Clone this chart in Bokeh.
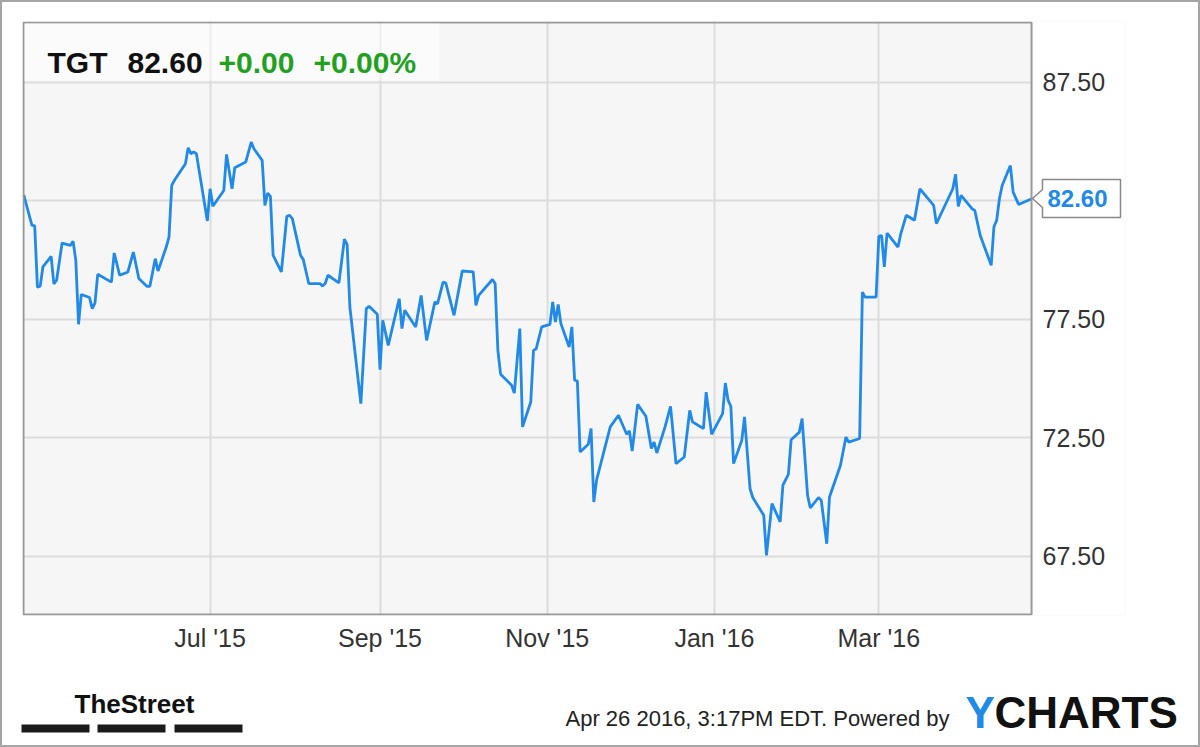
import pandas as pd
from bokeh.plotting import figure
from bokeh.layouts import column
from bokeh.models import (Range1d, FixedTicker, NumeralTickFormatter, Label,
                          BoxAnnotation, PolyAnnotation, ColumnDataSource)
from bokeh.embed import file_html
from bokeh.resources import INLINE

# ---------------- data ----------------
dates = [
    "2015-04-24", "2015-04-27", "2015-04-28", "2015-04-29", "2015-04-30", "2015-05-01",
    "2015-05-04", "2015-05-05", "2015-05-06", "2015-05-08", "2015-05-11", "2015-05-12",
    "2015-05-13", "2015-05-14", "2015-05-15", "2015-05-18", "2015-05-19", "2015-05-20",
    "2015-05-21", "2015-05-26", "2015-05-27", "2015-05-29", "2015-06-01", "2015-06-03",
    "2015-06-05", "2015-06-08", "2015-06-09", "2015-06-11", "2015-06-12", "2015-06-15",
    "2015-06-16", "2015-06-17", "2015-06-18", "2015-06-22", "2015-06-23", "2015-06-24",
    "2015-06-25", "2015-06-26", "2015-06-30", "2015-07-01", "2015-07-02", "2015-07-06",
    "2015-07-07", "2015-07-09", "2015-07-10", "2015-07-14", "2015-07-16", "2015-07-17",
    "2015-07-20", "2015-07-21", "2015-07-22", "2015-07-23", "2015-07-24", "2015-07-27",
    "2015-07-29", "2015-07-30", "2015-07-31", "2015-08-03", "2015-08-04", "2015-08-06",
    "2015-08-10", "2015-08-11", "2015-08-12", "2015-08-13", "2015-08-17", "2015-08-19",
    "2015-08-20", "2015-08-21", "2015-08-25", "2015-08-27", "2015-08-28", "2015-08-31",
    "2015-09-01", "2015-09-02", "2015-09-04", "2015-09-08", "2015-09-09", "2015-09-10",
    "2015-09-14", "2015-09-16", "2015-09-18", "2015-09-21", "2015-09-22", "2015-09-24",
    "2015-09-25", "2015-09-28", "2015-10-01", "2015-10-05", "2015-10-06", "2015-10-07",
    "2015-10-12", "2015-10-13", "2015-10-14", "2015-10-15", "2015-10-19", "2015-10-20",
    "2015-10-22", "2015-10-23", "2015-10-26", "2015-10-27", "2015-10-28", "2015-10-30",
    "2015-11-02", "2015-11-03", "2015-11-04", "2015-11-05", "2015-11-06", "2015-11-09",
    "2015-11-10", "2015-11-11", "2015-11-12", "2015-11-13", "2015-11-16", "2015-11-17",
    "2015-11-18", "2015-11-19", "2015-11-24", "2015-11-27", "2015-11-30", "2015-12-01",
    "2015-12-02", "2015-12-04", "2015-12-07", "2015-12-09", "2015-12-10", "2015-12-11",
    "2015-12-14", "2015-12-16", "2015-12-18", "2015-12-21", "2015-12-23", "2015-12-24",
    "2015-12-28", "2015-12-29", "2015-12-31", "2016-01-04", "2016-01-05", "2016-01-06",
    "2016-01-07", "2016-01-08", "2016-01-11", "2016-01-12", "2016-01-14", "2016-01-15",
    "2016-01-19", "2016-01-20", "2016-01-22", "2016-01-25", "2016-01-26", "2016-01-28",
    "2016-01-29", "2016-02-01", "2016-02-02", "2016-02-04", "2016-02-05", "2016-02-08",
    "2016-02-09", "2016-02-11", "2016-02-12", "2016-02-16", "2016-02-18", "2016-02-19",
    "2016-02-23", "2016-02-24", "2016-02-25", "2016-02-29", "2016-03-01", "2016-03-02",
    "2016-03-03", "2016-03-04", "2016-03-08", "2016-03-09", "2016-03-11", "2016-03-14",
    "2016-03-16", "2016-03-21", "2016-03-22", "2016-03-24", "2016-03-28", "2016-03-29",
    "2016-03-30", "2016-03-31", "2016-04-04", "2016-04-05", "2016-04-07", "2016-04-11",
    "2016-04-12", "2016-04-13", "2016-04-14", "2016-04-15", "2016-04-18", "2016-04-19",
    "2016-04-21", "2016-04-26",
]
prices = [
    82.75, 81.47, 81.45, 78.86, 78.90, 79.71,
    80.16, 79.00, 79.15, 80.72, 80.62, 80.80,
    79.99, 77.29, 78.55, 78.42, 77.95, 78.19,
    79.40, 79.07, 80.30, 79.36, 79.50, 80.34,
    79.22, 78.89, 78.89, 80.06, 79.54, 80.55,
    80.97, 83.15, 83.37, 84.07, 84.74, 84.49,
    84.56, 84.49, 81.65, 83.01, 82.27, 82.94,
    84.46, 83.01, 83.90, 84.14, 84.98, 84.70,
    84.21, 82.31, 82.83, 82.69, 80.20, 79.50,
    81.85, 81.89, 81.75, 80.20, 80.02, 79.01,
    79.01, 78.91, 79.01, 79.36, 79.04, 80.88,
    80.65, 78.02, 73.94, 77.95, 78.05, 77.71,
    75.38, 77.46, 76.40, 78.37, 77.11, 77.88,
    77.18, 78.51, 76.61, 78.23, 78.16, 79.07,
    79.03, 77.67, 79.54, 79.50, 78.09, 78.51,
    79.18, 79.01, 76.19, 75.18, 74.72, 74.39,
    77.11, 72.96, 74.01, 76.19, 76.26, 77.18,
    77.29, 78.23, 77.39, 78.13, 77.32, 76.33,
    77.18, 74.93, 74.90, 71.90, 72.23, 72.89,
    69.79, 70.71, 72.96, 73.45, 72.65, 72.79,
    71.94, 73.91, 73.41, 72.05, 72.32, 71.86,
    72.96, 73.83, 71.41, 71.69, 73.66, 73.17,
    72.89, 74.43, 72.65, 73.52, 74.81, 74.08,
    73.83, 71.41, 72.39, 73.38, 70.36, 69.98,
    69.23, 67.54, 69.72, 68.95, 70.50, 70.96,
    72.42, 72.74, 73.31, 70.07, 69.54, 69.98,
    69.86, 68.03, 70.00, 71.34, 72.53, 72.32,
    72.47, 78.65, 78.44, 78.44, 81.00, 81.04,
    79.71, 81.14, 80.55, 81.11, 81.89, 81.68,
    83.01, 82.31, 81.54, 82.03, 83.01, 83.62,
    82.27, 82.73, 82.17, 82.10, 81.04, 79.78,
    81.41, 81.68, 82.59, 83.15, 83.99, 82.87,
    82.35, 82.60,
]
x_tick_dates = ["2015-07-01", "2015-09-01", "2015-11-01", "2016-01-01", "2016-03-01"]
x_tick_labels = ["Jul '15", "Sep '15", "Nov '15", "Jan '16", "Mar '16"]
y_ticks = [67.5, 72.5, 77.5, 82.5, 87.5]
symbol = "TGT"
change_abs = "+0.00"
change_pct = "+0.00%"
footer_text = "Apr 26 2016, 3:17PM EDT.  Powered by"

# ---------------- styling ----------------
BLUE = "#2189e6"
GREEN = "#22a022"
FONT = "'Liberation Sans', Arial, sans-serif"

x = pd.to_datetime(dates)
src = ColumnDataSource(dict(x=x, y=prices))

Y0, Y1 = 65.0, 90.07
anchor = pd.Timestamp("2015-07-01")
x_start = anchor - pd.Timedelta(days=68.45)      # left edge of plot area
x_plot_end = anchor + pd.Timedelta(days=299.72)  # right edge of plot area
x_frame_end = anchor + pd.Timedelta(days=334.0)  # frame continues under the price labels
px_day = pd.Timedelta(days=0.365)                # about one pixel horizontally
px_val = 0.042                                   # about one pixel vertically

p = figure(width=1200, height=660, x_axis_type="datetime", y_axis_location="right",
           x_range=Range1d(x_start, x_frame_end), y_range=Range1d(Y0, Y1),
           output_backend="svg", toolbar_location=None,
           min_border_left=22, min_border_right=75, min_border_top=21, min_border_bottom=45)
p.frame_align = False

p.background_fill_color = "#f6f6f6"
p.border_fill_color = "white"
p.outline_line_color = None

tick_ms = [int(pd.Timestamp(d).value // 10**6) for d in x_tick_dates]
p.xaxis.ticker = FixedTicker(ticks=tick_ms)
p.xaxis.major_label_overrides = dict(zip(tick_ms, x_tick_labels))
p.yaxis.ticker = FixedTicker(ticks=y_ticks)
p.yaxis.formatter = NumeralTickFormatter(format="0.00")

for ax in (p.xaxis, p.yaxis):
    ax.axis_line_color = None
    ax.major_tick_line_color = None
    ax.minor_tick_line_color = None
    ax.major_tick_out = 0
    ax.major_tick_in = 0
    ax.major_label_text_font = FONT
    ax.major_label_text_font_size = "25px"
    ax.major_label_text_color = "#333333"
p.xaxis.major_label_standoff = 8
p.yaxis.major_label_standoff = -83   # labels sit just right of the plot area

for g in (p.xgrid, p.ygrid):
    g.grid_line_color = "#dcdcdc"
    g.grid_line_width = 2

# white strip right of the plot area (covers grid lines there)
p.add_layout(BoxAnnotation(left=x_plot_end, right=x_frame_end, bottom=Y0, top=Y1,
                           fill_color="white", fill_alpha=1.0,
                           line_color=None, level="glyph"))

p.line("x", "y", source=src, line_color=BLUE, line_width=2.8)

# plot-area border
p.add_layout(BoxAnnotation(left=x_start + px_day, right=x_plot_end,
                           bottom=Y0 + px_val, top=Y1 - px_val,
                           fill_alpha=0.0, line_color="#999999", line_alpha=1.0,
                           line_width=2))

# header box and texts
p.add_layout(BoxAnnotation(left=2, right=417, bottom=535, top=592,
                           left_units="screen", right_units="screen",
                           bottom_units="screen", top_units="screen",
                           fill_color="white", fill_alpha=0.5, line_color=None))
last = prices[-1]
for txt, sx, col in [(symbol, 25, "#111111"), (f"{last:.2f}", 105, "#111111"),
                     (change_abs, 196, GREEN), (change_pct, 291, GREEN)]:
    p.add_layout(Label(x=sx, y=553, x_units="screen", y_units="screen", text=txt,
                       text_font=FONT, text_font_size="30px", text_font_style="bold",
                       text_color=col, text_baseline="alphabetic"))

# last price callout
d1, d2 = 0.38, 0.8
p.add_layout(PolyAnnotation(xs=[1010, 1020, 1020, 1098, 1098, 1020, 1020],
                            ys=[last, last + d1, last + d2, last + d2, last - d2, last - d2, last - d1],
                            xs_units="screen", ys_units="data",
                            fill_color="white", fill_alpha=1.0,
                            line_color="#888888", line_alpha=1.0, line_width=1.5))
p.add_layout(Label(x=1025, y=last, x_units="screen", y_units="data", text=f"{last:.2f}",
                   text_font=FONT, text_font_size="24px", text_font_style="bold",
                   text_color=BLUE, text_baseline="middle"))

# ---------------- footer ----------------
f = figure(width=1200, height=87, x_range=Range1d(0, 1200), y_range=Range1d(747, 660),
           output_backend="svg", toolbar_location=None,
           min_border_left=0, min_border_right=0, min_border_top=0, min_border_bottom=0)
f.frame_align = False
f.axis.visible = False
f.grid.visible = False
f.outline_line_color = None
f.background_fill_color = "white"
f.border_fill_color = "white"

f.add_layout(Label(x=74, y=703, text="TheStreet", text_font=FONT, text_font_size="26px",
                   text_font_style="bold", text_color="#111111", text_baseline="middle"))
for left in (21, 97, 174):
    f.add_layout(BoxAnnotation(left=left, right=left + 68, top=724, bottom=732,
                               fill_color="#1a1a1a", fill_alpha=1.0, line_color=None))
f.add_layout(Label(x=565, y=718, text=footer_text, text_font=FONT, text_font_size="22px",
                   text_color="#222222", text_baseline="middle"))
f.add_layout(Label(x=965, y=712, text="Y", text_font=FONT, text_font_size="44px",
                   text_font_style="bold", text_color=BLUE, text_baseline="middle"))
f.add_layout(Label(x=994, y=712, text="CHARTS", text_font=FONT, text_font_size="44px",
                   text_font_style="bold", text_color="#111111", text_baseline="middle"))

layout = column(p, f, spacing=0)
layout.stylesheets = [
    ":host { position: relative; }"
    " :host::after { content: ''; position: absolute; left: 0; top: 0; right: 0; bottom: 0;"
    " border: 2px solid #a5a5a5; pointer-events: none; z-index: 100; }"
]
open("out.html", "w").write(file_html(layout, INLINE))
